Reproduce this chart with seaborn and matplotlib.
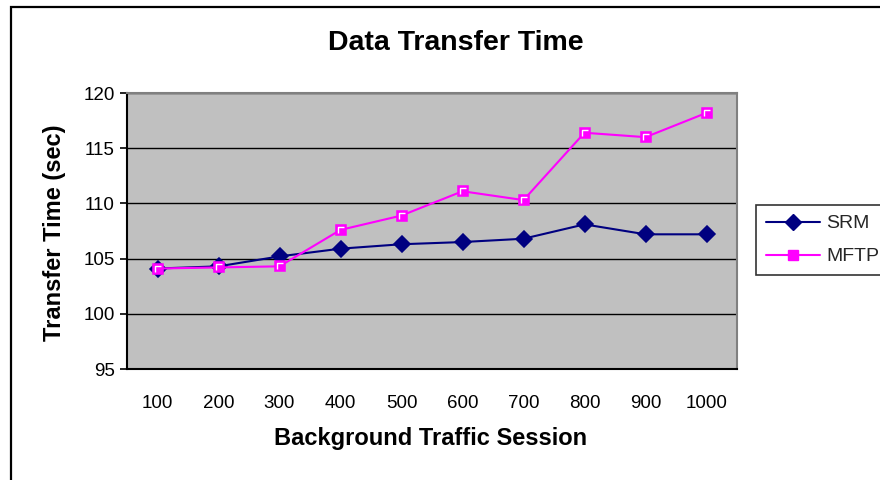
import matplotlib
matplotlib.use("Agg")
import matplotlib.pyplot as plt
import seaborn as sns
import pandas as pd
from matplotlib.patches import Rectangle
from matplotlib.lines import Line2D
from matplotlib.path import Path

sessions = ["100", "200", "300", "400", "500", "600", "700", "800", "900", "1000"]
srm = [104.1, 104.3, 105.2, 105.9, 106.3, 106.5, 106.8, 108.1, 107.2, 107.2]
mftp = [104.1, 104.2, 104.3, 107.6, 108.9, 111.1, 110.3, 116.4, 116.0, 118.2]
series_names = ["SRM", "MFTP"]
y_ticks = [95, 100, 105, 110, 115, 120]

sns.set_theme(style="white")
plt.rcParams["font.family"] = ["Liberation Sans", "DejaVu Sans"]

df = pd.DataFrame({
    "Session": sessions * 2,
    "Time": srm + mftp,
    "Series": [series_names[0]] * len(sessions) + [series_names[1]] * len(sessions),
})

fig = plt.figure(figsize=(8.8, 4.8), dpi=100)
ax = fig.add_axes([127 / 880, 1 - 369 / 480, (737 - 127) / 880, (369 - 93) / 480])
ax.set_facecolor("#C0C0C0")

colors = {"SRM": "#000080", "MFTP": "#FF00FF"}
sns.pointplot(data=df, x="Session", y="Time", hue="Series", order=sessions,
              hue_order=series_names, palette=colors, markers=["D", "s"],
              linestyles=["-", "-"], ax=ax, legend=False, errorbar=None,
              markersize=7, linewidth=1.5, zorder=3)
for line in ax.lines:
    if line.get_marker() == "D":
        line.set_markersize(8)

# Excel-style white highlight inside MFTP squares
hl = Path([(-0.35, -0.45), (-0.35, 0.35), (0.45, 0.35)],
          [Path.MOVETO, Path.LINETO, Path.LINETO])
ax.plot(range(len(sessions)), mftp, linestyle="none", marker=hl, markersize=5,
        markerfacecolor="none", markeredgecolor="white", markeredgewidth=1.0, zorder=5)

ax.set_ylim(95, 120)
ax.set_yticks(y_ticks)
ax.set_xlim(-0.5, len(sessions) - 0.5)
ax.yaxis.grid(True, color="black", linewidth=1.0)
ax.set_axisbelow(True)

ax.tick_params(axis="x", which="major", length=0, pad=19, labelsize=13.5, colors="black")
ax.set_xticks([i - 0.5 for i in range(len(sessions) + 1)], minor=True)
ax.tick_params(axis="x", which="minor", length=5, width=1.2, direction="out", color="black")
ax.tick_params(axis="y", which="major", length=5, width=1.2, direction="out", labelsize=13.5,
               pad=4, left=True, color="black")
for lbl in ax.get_yticklabels() + ax.get_xticklabels():
    lbl.set_color("black")

for side in ["left", "bottom"]:
    ax.spines[side].set_color("black")
    ax.spines[side].set_linewidth(1.5)
for side in ["top", "right"]:
    ax.spines[side].set_visible(True)
    ax.spines[side].set_color("#808080")
    ax.spines[side].set_linewidth(1.5)

ax.set_xlabel("")
ax.set_ylabel("")

fig.text(456 / 880, 1 - 43 / 480, "Data Transfer Time", ha="center", va="center",
         fontsize=20.5, fontweight="bold", color="black")
fig.text(431 / 880, 1 - 439 / 480, "Background Traffic Session", ha="center", va="center",
         fontsize=17, fontweight="bold", color="black")
fig.text(55 / 880, 1 - 233 / 480, "Transfer Time (sec)", ha="center", va="center",
         rotation=90, fontsize=17, fontweight="bold", color="black")

handles = [
    Line2D([0], [0], color=colors["SRM"], marker="D", markersize=8, linewidth=1.5),
    Line2D([0], [0], color=colors["MFTP"], marker="s", markersize=7, linewidth=1.5),
]
leg = fig.legend(handles, series_names, loc="upper left",
                 bbox_to_anchor=(756 / 880, 1 - 205 / 480), frameon=True,
                 fontsize=14, handlelength=2.8, handletextpad=0.3,
                 borderpad=0.5, labelspacing=0.8, fancybox=False, borderaxespad=0)
leg.get_frame().set_edgecolor("black")
leg.get_frame().set_linewidth(1.2)
leg.get_frame().set_facecolor("white")

border = Rectangle((11 / 880, -0.2), 1.2, 1.2 - 7 / 480, transform=fig.transFigure,
                   fill=False, edgecolor="black", linewidth=1.6, clip_on=False)
fig.patches.append(border)

fig.savefig("out.png", dpi=100, facecolor="white")
